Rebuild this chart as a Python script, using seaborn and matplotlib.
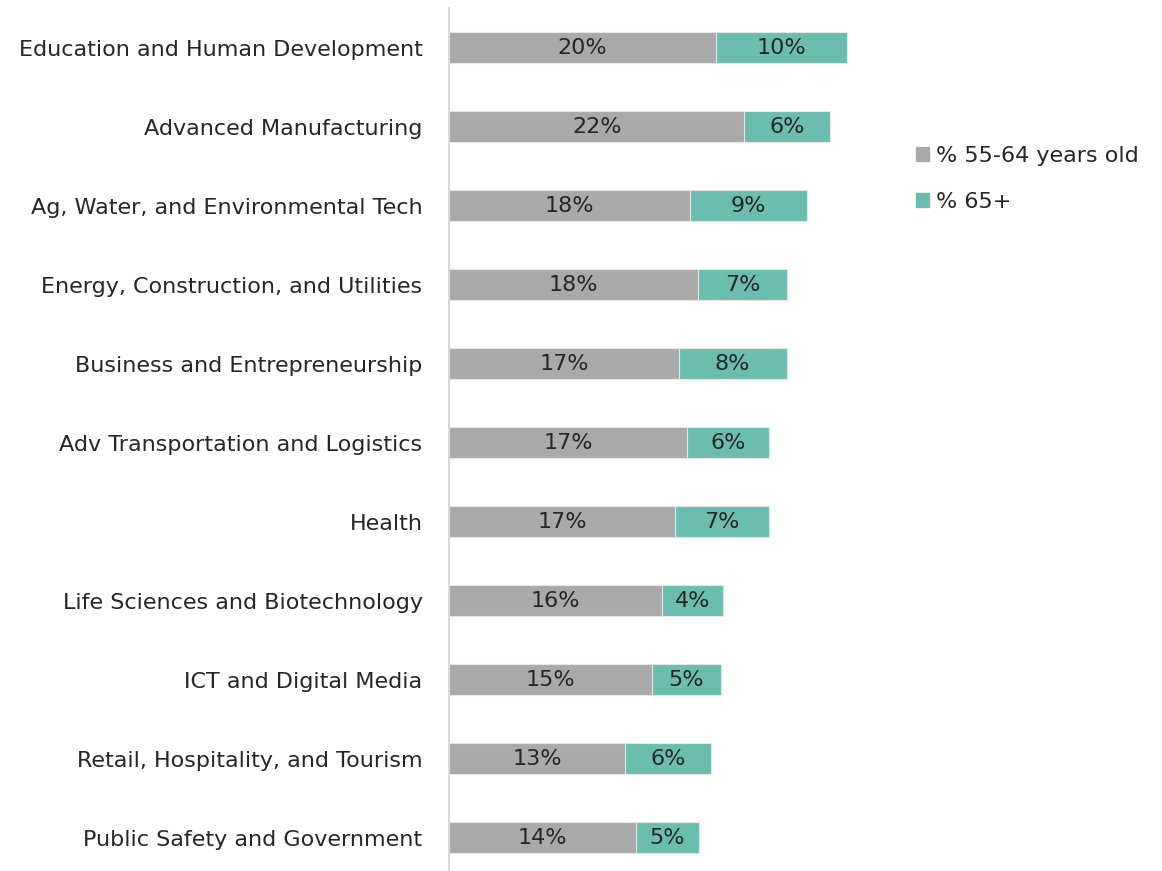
import matplotlib
matplotlib.use("Agg")
import matplotlib.pyplot as plt
import matplotlib.patches as mpatches
import seaborn as sns
import pandas as pd

categories = [
    "Education and Human Development",
    "Advanced Manufacturing",
    "Ag, Water, and Environmental Tech",
    "Energy, Construction, and Utilities",
    "Business and Entrepreneurship",
    "Adv Transportation and Logistics",
    "Health",
    "Life Sciences and Biotechnology",
    "ICT and Digital Media",
    "Retail, Hospitality, and Tourism",
    "Public Safety and Government",
]
age_55_64 = [19.58, 21.68, 17.69, 18.26, 16.86, 17.45, 16.57, 15.66, 14.93, 12.94, 13.73]
age_65_plus = [9.66, 6.29, 8.61, 6.59, 7.93, 6.07, 6.90, 4.43, 5.01, 6.31, 4.60]
series_names = ["% 55-64 years old", "% 65+"]

GRAY = "#A9A9A9"
TEAL = "#6BBEAF"
TEXT = "#262626"

df = pd.DataFrame({"category": categories, "a": age_55_64, "b": age_65_plus})
df["total"] = df["a"] + df["b"]

sns.set_style("white")
plt.rcParams["font.family"] = ["DejaVu Sans"]

fig = plt.figure(figsize=(11.62, 8.71), dpi=100)
ax = fig.add_axes([449 / 1162, 1 / 871, 713 / 1162, 862 / 871])

# stacked bars: total in teal, then the 55-64 part drawn over it in gray
sns.barplot(data=df, x="total", y="category", color=TEAL, width=0.4, ax=ax,
            edgecolor="#E6E6E6", linewidth=0.8, saturation=1)
sns.barplot(data=df, x="a", y="category", color=GRAY, width=0.4, ax=ax,
            edgecolor="#E6E6E6", linewidth=0.8, saturation=1)

for i, row in df.iterrows():
    ax.text(row["a"] / 2, i, f"{row['a']:.0f}%", ha="center", va="center",
            fontsize=16, color=TEXT)
    ax.text(row["a"] + row["b"] / 2, i, f"{row['b']:.0f}%", ha="center", va="center",
            fontsize=16, color=TEXT)

ax.set_xlim(0, 713 / 13.62)
ax.set_ylim(10.41, -0.5)
ax.set_xlabel("")
ax.set_ylabel("")
ax.set_xticks([])
ax.tick_params(axis="y", length=0, pad=19, labelsize=16, labelcolor=TEXT)
for side in ["top", "right", "bottom"]:
    ax.spines[side].set_visible(False)
ax.spines["left"].set_color("#D9D9D9")
ax.spines["left"].set_linewidth(1.5)

handles = [mpatches.Patch(color=GRAY, label=series_names[0]),
           mpatches.Patch(color=TEAL, label=series_names[1])]
fig.legend(handles=handles, loc="upper left", bbox_to_anchor=(896 / 1162, 1 - 126 / 871),
           frameon=False, fontsize=16, handlelength=0.6, handleheight=0.6,
           handletextpad=0.3, labelspacing=1.15, labelcolor=TEXT)

fig.savefig("out.png", dpi=100)
